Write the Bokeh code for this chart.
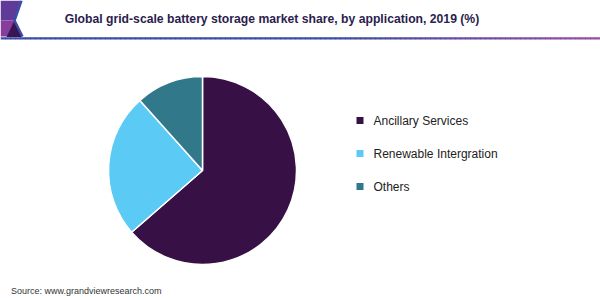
import numpy as np
from bokeh.plotting import figure
from bokeh.models import Range1d, ColumnDataSource
from bokeh.core.properties import value
from bokeh.embed import file_html
from bokeh.resources import INLINE

# ---- data ----
categories = ["Ancillary Services", "Renewable Intergration", "Others"]
shares = [63.6, 24.8, 11.6]
colors = ["#371046", "#5bcbf5", "#31788a"]
title = "Global grid-scale battery storage market share, by application, 2019 (%)"
source_note = "Source: www.grandviewresearch.com"

W, H = 600, 300
p = figure(width=W, height=H, x_range=Range1d(0, W), y_range=Range1d(0, H),
           output_backend="svg", toolbar_location=None, min_border=0)
p.axis.visible = False
p.grid.visible = False
p.outline_line_color = None
p.background_fill_color = "white"
p.border_fill_color = "white"

def Y(y):
    return H - y

# ---- header decoration ----
p.patch([0, 20, 13.5, 0], [Y(0), Y(0), Y(20), Y(20)], fill_color="#5f3a96", line_color=None)
p.patch([0, 13.5, 21, 0], [Y(20), Y(20), Y(36), Y(36)], fill_color="#873d9c", line_color=None)
p.patch([14, 6, 21.5], [Y(20), Y(36.5), Y(36.5)], fill_color="#3b1552", line_color=None)
p.line([21, 14, 22], [Y(0), Y(20), Y(36)], line_color="#3a4ea8", line_width=2.5)

# gradient underline
nseg = 120
xs = np.linspace(0, W, nseg + 1)
c0 = np.array([0x3a, 0x4e, 0xa5]); c1 = np.array([0x9b, 0x4f, 0xa8])
seg_x, seg_y, seg_c = [], [], []
for i in range(nseg):
    t = max(0.0, ((xs[i] + xs[i + 1]) / 2 - 330) / 270)
    c = (c0 + (c1 - c0) * t).astype(int)
    seg_x.append([xs[i], xs[i + 1] + 0.5]); seg_y.append([Y(37.8), Y(37.8)])
    seg_c.append("#%02x%02x%02x" % tuple(c))
p.multi_line(seg_x, seg_y, line_color=seg_c, line_width=2.2)

# title
p.text(x=[271.5], y=[Y(18)], text=[title], text_font=value("Liberation Sans"),
       text_font_style="bold", text_font_size="12.2px", text_color="#2b1d4e",
       text_align="center", text_baseline="middle")

# ---- pie ----
cx, cy, r = 202, Y(170), 94
frac = np.array(shares) / sum(shares)
cum = np.concatenate([[0], np.cumsum(frac)])
starts = np.pi / 2 - 2 * np.pi * cum[:-1]
ends = np.pi / 2 - 2 * np.pi * cum[1:]
src = ColumnDataSource(dict(start=starts, end=ends, color=colors, cat=categories))
p.wedge(x=cx, y=cy, radius=r, start_angle="start", end_angle="end",
        direction="clock", fill_color="color", line_color="white",
        line_width=1.5, source=src)

# ---- legend ----
ly = [Y(120), Y(153), Y(186)]
lsrc = ColumnDataSource(dict(x=[359.5] * 3, y=ly, color=colors, cat=categories,
                             tx=[373] * 3))
p.rect(x="x", y="y", width=7, height=7, fill_color="color", line_color=None, source=lsrc)
p.text(x="tx", y="y", text="cat", source=lsrc, text_font=value("Liberation Sans"),
       text_font_size="12px", text_color="#222222", text_baseline="middle")

# source
p.text(x=[10.5], y=[Y(290)], text=[source_note], text_font=value("Liberation Sans"),
       text_font_size="9px", text_color="#333333", text_baseline="middle")

open("out.html", "w").write(file_html(p, INLINE))
